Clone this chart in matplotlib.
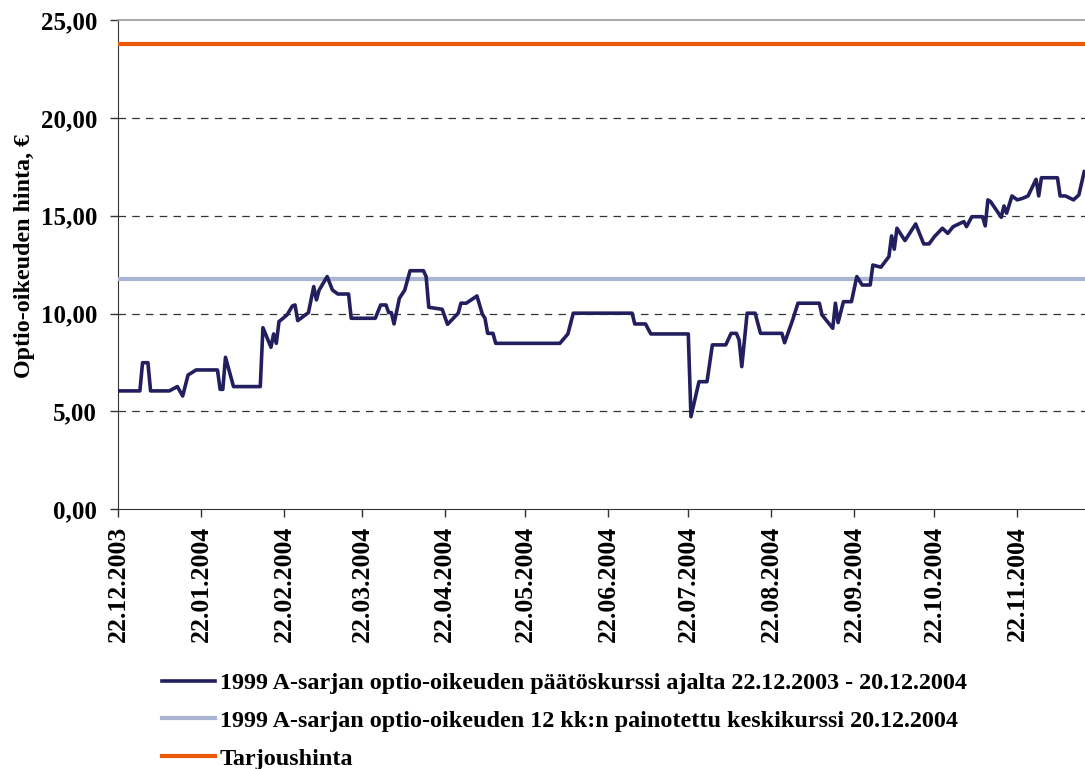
import pandas as pd
import matplotlib
matplotlib.use("Agg")
import matplotlib.pyplot as plt

# paatoskurssi (vertices only)
dates = ["22.12.2003", "30.12.2003", "31.12.2003", "02.01.2004", "03.01.2004",
         "10.01.2004", "13.01.2004", "15.01.2004", "17.01.2004", "20.01.2004",
         "28.01.2004", "29.01.2004", "30.01.2004", "31.01.2004", "03.02.2004",
         "13.02.2004", "14.02.2004", "17.02.2004", "18.02.2004", "19.02.2004",
         "20.02.2004", "23.02.2004", "25.02.2004", "26.02.2004", "27.02.2004",
         "02.03.2004", "04.03.2004", "05.03.2004", "06.03.2004", "09.03.2004",
         "11.03.2004", "13.03.2004", "17.03.2004", "18.03.2004", "27.03.2004",
         "29.03.2004", "31.03.2004", "01.04.2004", "02.04.2004", "03.04.2004",
         "05.04.2004", "07.04.2004", "09.04.2004", "14.04.2004", "15.04.2004",
         "16.04.2004", "21.04.2004", "23.04.2004", "27.04.2004", "28.04.2004",
         "30.04.2004", "04.05.2004", "06.05.2004", "07.05.2004", "08.05.2004",
         "10.05.2004", "11.05.2004", "04.06.2004", "07.06.2004", "09.06.2004",
         "01.07.2004", "02.07.2004", "06.07.2004", "08.07.2004", "22.07.2004",
         "23.07.2004", "26.07.2004", "29.07.2004", "31.07.2004", "05.08.2004",
         "07.08.2004", "09.08.2004", "10.08.2004", "11.08.2004", "13.08.2004",
         "16.08.2004", "18.08.2004", "26.08.2004", "27.08.2004", "30.08.2004",
         "01.09.2004", "09.09.2004", "10.09.2004", "14.09.2004", "15.09.2004",
         "16.09.2004", "18.09.2004", "21.09.2004", "23.09.2004", "25.09.2004",
         "28.09.2004", "29.09.2004", "02.10.2004", "05.10.2004", "06.10.2004",
         "07.10.2004", "08.10.2004", "11.10.2004", "15.10.2004", "18.10.2004",
         "20.10.2004", "22.10.2004", "25.10.2004", "27.10.2004", "29.10.2004",
         "02.11.2004", "03.11.2004", "05.11.2004", "09.11.2004", "10.11.2004",
         "11.11.2004", "12.11.2004", "16.11.2004", "17.11.2004", "18.11.2004",
         "20.11.2004", "22.11.2004", "24.11.2004", "26.11.2004", "29.11.2004",
         "30.11.2004", "01.12.2004", "07.12.2004", "08.12.2004", "10.12.2004",
         "13.12.2004", "15.12.2004", "17.12.2004"]
price = [6.05, 6.05, 7.49, 7.49, 6.05,
         6.05, 6.27, 5.79, 6.86, 7.12,
         7.12, 6.13, 6.13, 7.77, 6.27,
         6.27, 9.28, 8.28, 8.96, 8.48,
         9.59, 9.93, 10.39, 10.44, 9.64,
         10.05, 11.38, 10.70, 11.20, 11.89,
         11.20, 11.00, 11.00, 9.76, 9.76,
         10.44, 10.44, 10.05, 10.05, 9.47,
         10.78, 11.20, 12.19, 12.19, 11.89,
         10.32, 10.22, 9.45, 10.02, 10.53,
         10.53, 10.90, 9.98, 9.76, 8.99,
         8.99, 8.48, 8.48, 8.96, 10.02,
         10.02, 9.47, 9.47, 8.96, 8.96,
         4.73, 6.52, 6.52, 8.40, 8.40,
         8.99, 8.99, 8.65, 7.29, 10.02,
         10.02, 8.99, 8.99, 8.51, 9.67,
         10.53, 10.53, 9.93, 9.25, 10.53,
         9.54, 10.61, 10.61, 11.89, 11.46,
         11.46, 12.48, 12.37, 12.91, 13.97,
         13.29, 14.36, 13.73, 14.58, 13.56,
         13.56, 13.93, 14.36, 14.10, 14.44,
         14.70, 14.44, 14.95, 14.95, 14.48,
         15.81, 15.72, 14.92, 15.50, 15.13,
         16.01, 15.81, 15.89, 16.01, 16.86,
         16.01, 16.94, 16.94, 16.01, 16.01,
         15.81, 16.06, 17.25]
keskikurssi = 11.75
tarjoushinta = 23.76

labels = ["1999 A-sarjan optio-oikeuden päätöskurssi ajalta 22.12.2003 - 20.12.2004",
          "1999 A-sarjan optio-oikeuden 12 kk:n painotettu keskikurssi 20.12.2004",
          "Tarjoushinta"]
tick_dates = ["22.12.2003", "22.01.2004", "22.02.2004", "22.03.2004", "22.04.2004",
              "22.05.2004", "22.06.2004", "22.07.2004", "22.08.2004", "22.09.2004",
              "22.10.2004", "22.11.2004"]

x = pd.to_datetime(dates, format="%d.%m.%Y")
xt = pd.to_datetime(tick_dates, format="%d.%m.%Y")
x0 = pd.Timestamp("2003-12-22")
x1 = pd.Timestamp("2003-12-22") + pd.Timedelta(days=361.3)

plt.rcParams['font.family'] = ['Liberation Serif', 'DejaVu Serif']
plt.rcParams['font.weight'] = 'bold'

fig = plt.figure(figsize=(10.85, 7.69), dpi=100)
ax = fig.add_axes([0.1092, 0.3377, 0.8908, 0.6363])

l1, = ax.plot(x, price, color="#231F5E", lw=2.6, solid_joinstyle="round", zorder=4)
l2 = ax.axhline(keskikurssi, color="#AAB4D3", lw=3, zorder=3)
l3 = ax.axhline(tarjoushinta, color="#EA5B0C", lw=3, zorder=3)

for yv in [5, 10, 15, 20]:
    ax.axhline(yv, color="#333333", lw=0.9, ls=(0, (6, 5)), zorder=1)

ax.set_xlim(x0, x1)
ax.set_ylim(0, 25)
ax.set_yticks([0, 5, 10, 15, 20, 25])
ax.set_yticklabels(["0,00", "5,00", "10,00", "15,00", "20,00", "25,00"], fontsize=18, fontweight="bold")
ax.set_xticks(xt)
ax.set_xticklabels(tick_dates, rotation=90, fontsize=18.5, fontweight="bold")
ax.tick_params(axis="both", direction="out", length=6, width=1, color="#333333")
ax.tick_params(axis="x", pad=6)
ax.tick_params(axis="y", pad=9.5)

ax.spines["right"].set_visible(False)
ax.spines["top"].set_color("#999999")
ax.spines["top"].set_linewidth(1.2)
ax.spines["left"].set_color("#333333")
ax.spines["bottom"].set_color("#333333")

ax.set_ylabel("Optio-oikeuden hinta, €", fontsize=17.3, fontweight="bold")
ax.yaxis.set_label_coords(-0.0864, 0.518)

fig.legend([l1, l2, l3], labels, loc="upper left", bbox_to_anchor=(0.149, 0.126),
           frameon=False, fontsize=17.4, handlelength=2.2, handletextpad=0.2,
           labelspacing=0.66, borderaxespad=0, borderpad=0)

fig.savefig("out.png", dpi=100)
